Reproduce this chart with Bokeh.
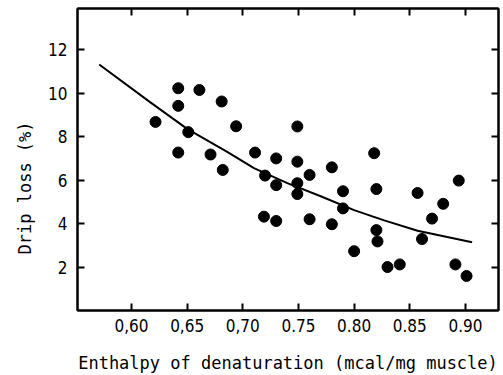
from bokeh.plotting import figure
from bokeh.models import Range1d, LinearAxis, FixedTicker, Title
from bokeh.embed import file_html
from bokeh.resources import INLINE

# Data
enthalpy = [0.6216, 0.642, 0.642, 0.651, 0.642, 0.661, 0.671, 0.681, 0.682, 0.694,
            0.711, 0.749, 0.730, 0.749, 0.720, 0.760, 0.780, 0.818, 0.894, 0.730,
            0.749, 0.749, 0.790, 0.790, 0.820, 0.857, 0.880, 0.870, 0.719, 0.730,
            0.760, 0.780, 0.820, 0.821, 0.861, 0.800, 0.830, 0.841, 0.891, 0.901]
drip_loss = [8.68, 10.23, 9.42, 8.21, 7.27, 10.15, 7.18, 9.62, 6.47, 8.48,
             7.27, 8.47, 7.00, 6.85, 6.21, 6.24, 6.59, 7.24, 5.98, 5.77,
             5.86, 5.36, 5.49, 4.70, 5.59, 5.41, 4.91, 4.23, 4.32, 4.12,
             4.20, 3.97, 3.70, 3.18, 3.29, 2.73, 2.00, 2.12, 2.12, 1.59]

curve_x = [0.571, 0.617, 0.650, 0.686, 0.710, 0.740, 0.770, 0.800, 0.827, 0.857, 0.906]
curve_y = [11.32, 9.58, 8.36, 7.30, 6.55, 5.86, 5.26, 4.62, 4.15, 3.67, 3.14]

x_ticks = [0.60, 0.65, 0.70, 0.75, 0.80, 0.85, 0.90]
x_tick_labels = ["0,60", "0,65", "0,70", "0.75", "0.80", "0.85", "0.90"]
y_ticks = [2, 4, 6, 8, 10, 12]

TICK_FONT = "DejaVu Sans Condensed"
LABEL_FONT = "DejaVu Sans Mono"

p = figure(width=503, height=375, output_backend="svg", toolbar_location=None,
           x_range=Range1d(0.5515, 0.9297), y_range=Range1d(0, 13.9),
           min_border_left=77, min_border_right=5, min_border_top=8, min_border_bottom=61,
           x_axis_label="Enthalpy of denaturation (mcal/mg muscle)")
p.grid.visible = False
p.outline_line_color = "black"
p.outline_line_width = 2
p.background_fill_color = "white"
p.border_fill_color = "white"

def style_axis(ax, show_labels=True):
    ax.axis_line_width = 2
    ax.axis_line_color = "black"
    ax.major_tick_in = 7
    ax.major_tick_out = 0
    ax.major_tick_line_width = 2
    ax.minor_tick_line_color = None
    if show_labels:
        ax.major_label_text_font = TICK_FONT
        ax.major_label_text_font_size = "17px"
        ax.major_label_text_color = "black"
    else:
        ax.major_label_text_font_size = "0px"
        ax.major_label_text_color = None

xa = p.xaxis[0]
xa.ticker = FixedTicker(ticks=x_ticks)
xa.major_label_overrides = {t: l for t, l in zip(x_ticks, x_tick_labels)}
style_axis(xa)
xa.major_label_standoff = 8
xa.axis_label_text_font = LABEL_FONT
xa.axis_label_text_font_size = "17px"
xa.axis_label_text_font_style = "normal"
xa.axis_label_text_color = "black"
xa.axis_label_standoff = 18

ya = p.yaxis[0]
ya.ticker = FixedTicker(ticks=y_ticks)
style_axis(ya)
ya.major_label_standoff = 10

top = LinearAxis(ticker=FixedTicker(ticks=x_ticks))
style_axis(top, False)
p.add_layout(top, "above")
right = LinearAxis(ticker=FixedTicker(ticks=y_ticks))
style_axis(right, False)
p.add_layout(right, "right")

p.line(curve_x, curve_y, line_color="black", line_width=2)
p.scatter(enthalpy, drip_loss, size=11, fill_color="black", line_color="black")

ytitle = Title(text="Drip loss (%)", align="left", offset=56, standoff=21,
               text_font=LABEL_FONT, text_font_size="17px", text_font_style="normal",
               text_color="black")
p.add_layout(ytitle, "left")

open("out.html", "w").write(file_html(p, INLINE))
